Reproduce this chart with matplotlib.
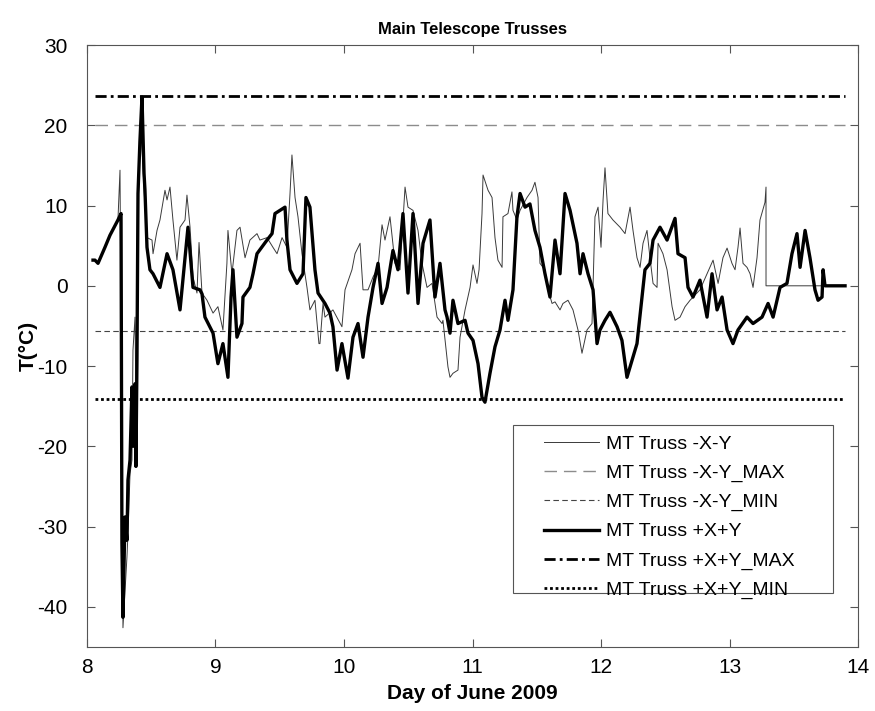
#!/usr/bin/env python3
# Main Telescope Trusses temperature trace, June 2009
import numpy as np
import matplotlib
matplotlib.use("Agg")
import matplotlib.pyplot as plt
from matplotlib.patches import Rectangle

plt.rcParams['font.family'] = ['Liberation Sans', 'DejaVu Sans']
plt.rcParams['axes.unicode_minus'] = False

# MT Truss +X+Y (thick trace): day of June, temperature in degC
day_pxpy = [8.047, 8.062, 8.086, 8.140, 8.179, 8.241, 8.265, 8.272, 8.280, 8.296,
            8.311, 8.319, 8.335, 8.350, 8.358, 8.374, 8.381, 8.389, 8.397, 8.412,
            8.428, 8.444, 8.451, 8.467, 8.490, 8.514, 8.568, 8.623, 8.669, 8.724,
            8.786, 8.825, 8.879, 8.895, 8.918, 8.981, 9.019, 9.058, 9.097, 9.121,
            9.136, 9.167, 9.206, 9.214, 9.268, 9.292, 9.323, 9.401, 9.440, 9.463,
            9.541, 9.556, 9.580, 9.634, 9.681, 9.704, 9.735, 9.774, 9.798, 9.852,
            9.891, 9.914, 9.946, 9.984, 10.031, 10.070, 10.109, 10.148, 10.187, 10.226,
            10.265, 10.296, 10.335, 10.381, 10.420, 10.459, 10.498, 10.537, 10.576, 10.615,
            10.669, 10.708, 10.747, 10.786, 10.802, 10.825, 10.848, 10.887, 10.942, 10.965,
            11.004, 11.043, 11.074, 11.097, 11.136, 11.175, 11.214, 11.253, 11.276, 11.315,
            11.346, 11.370, 11.409, 11.447, 11.486, 11.525, 11.564, 11.603, 11.642, 11.681,
            11.720, 11.759, 11.813, 11.837, 11.860, 11.899, 11.938, 11.969, 11.992, 12.031,
            12.070, 12.125, 12.163, 12.202, 12.241, 12.280, 12.319, 12.342, 12.381, 12.405,
            12.459, 12.514, 12.576, 12.599, 12.654, 12.677, 12.716, 12.770, 12.825, 12.864,
            12.903, 12.942, 12.981, 13.027, 13.066, 13.136, 13.183, 13.253, 13.300, 13.339,
            13.393, 13.447, 13.486, 13.525, 13.549, 13.588, 13.626, 13.665, 13.689, 13.720,
            13.728, 13.743, 13.899]
temp_pxpy = [3.2, 3.2, 2.8, 4.8, 6.3, 8.2, 9.0, -32.0, -41.3, -28.8,
             -31.7, -24.2, -21.7, -12.6, -20.0, -12.2, -22.5, -9.3, 11.5, 18.0,
             23.5, 14.0, 12.0, 4.8, 2.0, 1.5, -0.2, 4.0, 2.0, -3.0,
             7.3, -0.2, -0.5, -1.0, -3.9, -5.9, -9.7, -7.2, -11.4, -1.4,
             2.0, -6.4, -4.7, -1.4, -0.2, 1.5, 4.0, 5.7, 6.5, 9.0,
             9.8, 5.7, 2.0, 0.3, 1.5, 11.0, 9.8, 2.0, -0.9, -2.2,
             -3.4, -5.1, -10.5, -7.2, -11.5, -6.4, -4.7, -8.9, -3.9, -0.2,
             2.8, -2.2, -0.2, 4.4, 2.0, 9.0, -0.9, 9.0, -2.2, 5.3,
             8.2, -1.4, 2.8, -3.0, -3.9, -5.9, -1.8, -4.7, -4.3, -5.9,
             -6.8, -9.7, -13.9, -14.5, -10.9, -7.6, -5.5, -1.8, -4.3, -0.5,
             8.6, 11.5, 9.8, 10.2, 6.9, 4.8, 1.5, -1.4, 5.7, 1.5,
             11.5, 9.4, 5.3, 1.5, 4.0, 1.5, -0.5, -7.2, -5.5, -4.3,
             -3.3, -5.1, -6.8, -11.4, -9.3, -7.2, -1.4, 2.0, 2.8, 5.7,
             7.3, 5.7, 8.4, 4.0, 3.5, -0.2, -1.4, 0.7, -3.9, 1.5,
             -3.0, -1.4, -5.5, -7.2, -5.5, -3.9, -4.7, -3.9, -2.2, -3.9,
             -0.2, 0.3, 4.0, 6.5, 2.3, 6.9, 3.5, -0.5, -1.8, -1.4,
             2.0, 0.0, 0.0]

# MT Truss -X-Y (thin trace)
day_mxmy = [8.047, 8.062, 8.086, 8.140, 8.179, 8.241, 8.257, 8.280, 8.311, 8.319,
            8.335, 8.350, 8.358, 8.374, 8.381, 8.397, 8.420, 8.444, 8.467, 8.506,
            8.514, 8.545, 8.568, 8.607, 8.623, 8.646, 8.669, 8.700, 8.724, 8.763,
            8.778, 8.802, 8.825, 8.856, 8.872, 8.895, 8.934, 8.981, 9.019, 9.058,
            9.089, 9.097, 9.128, 9.167, 9.191, 9.230, 9.268, 9.323, 9.346, 9.401,
            9.447, 9.479, 9.518, 9.556, 9.580, 9.595, 9.619, 9.642, 9.673, 9.712,
            9.735, 9.774, 9.805, 9.813, 9.837, 9.852, 9.914, 9.984, 10.008, 10.062,
            10.086, 10.125, 10.148, 10.187, 10.226, 10.265, 10.296, 10.319, 10.358, 10.397,
            10.436, 10.475, 10.498, 10.537, 10.576, 10.607, 10.646, 10.685, 10.724, 10.763,
            10.770, 10.809, 10.825, 10.848, 10.887, 10.903, 10.942, 10.981, 11.004, 11.035,
            11.051, 11.074, 11.082, 11.121, 11.152, 11.175, 11.198, 11.230, 11.237, 11.276,
            11.307, 11.315, 11.346, 11.370, 11.424, 11.463, 11.486, 11.510, 11.525, 11.564,
            11.588, 11.619, 11.642, 11.681, 11.704, 11.743, 11.782, 11.821, 11.852, 11.891,
            11.930, 11.953, 11.977, 12.000, 12.016, 12.031, 12.054, 12.093, 12.148, 12.187,
            12.226, 12.249, 12.280, 12.304, 12.327, 12.358, 12.381, 12.405, 12.436, 12.444,
            12.482, 12.514, 12.553, 12.576, 12.615, 12.654, 12.693, 12.770, 12.825, 12.872,
            12.911, 12.949, 12.981, 13.019, 13.043, 13.066, 13.082, 13.105, 13.136, 13.160,
            13.183, 13.214, 13.237, 13.276, 13.284, 13.284, 13.899]
temp_mxmy = [3.2, 3.2, 2.8, 4.8, 6.3, 8.2, 14.4, -42.6, -33.8, -30.9,
             -23.4, -21.7, -8.0, -3.9, -15.0, 10.0, 20.0, 12.0, 6.0, 5.7,
             4.0, 6.9, 8.2, 11.9, 10.7, 12.3, 8.2, 3.2, 7.3, 8.2,
             11.3, 7.3, 1.1, -0.9, 5.4, -0.9, -1.8, -3.4, -2.6, -5.5,
             2.8, 6.9, 1.5, 6.9, 7.3, 3.5, 5.7, 6.5, 5.7, 6.0,
             4.8, 4.0, 6.0, 4.8, 11.5, 16.3, 11.0, 8.6, 4.0, -0.2,
             -3.0, -1.8, -7.2, -7.2, -2.2, -3.9, -3.0, -5.1, -0.5, 2.0,
             4.0, 5.3, -0.5, -0.5, 1.1, 2.3, 7.6, 5.7, 8.6, 2.8,
             2.0, 12.3, 9.8, 9.4, 6.9, 2.8, -0.2, 0.3, -3.9, -4.7,
             -4.3, -10.1, -11.4, -10.9, -10.5, -6.4, -3.0, -0.2, 2.6, 0.3,
             2.0, 9.0, 13.8, 11.9, 11.0, 6.0, 3.2, 2.3, 8.6, 9.0,
             11.7, 9.4, 8.2, 9.4, 11.0, 11.9, 12.9, 11.0, 2.8, 2.0,
             -0.5, -2.2, -2.0, -3.0, -2.2, -1.8, -3.0, -5.5, -8.4, -5.5,
             -4.7, 8.6, 9.8, 4.8, 10.7, 14.7, 9.0, 8.2, 7.3, 6.5,
             9.8, 6.9, 3.5, 2.3, 5.3, 6.9, 3.5, 0.3, -0.2, 5.3,
             4.0, 2.0, -2.6, -4.3, -3.9, -2.6, -1.8, -0.5, 1.5, 3.2,
             0.3, 3.5, 4.7, 2.8, 2.0, 4.8, 7.2, 2.8, 2.3, 1.5,
             -0.2, 3.5, 8.2, 10.4, 12.3, 0.0, 0.0]

# Limits (MAX / MIN reference levels)
mxmy_max = 20.0
mxmy_min = -5.6
pxpy_max = 23.6
pxpy_min = -14.1

x_limits = (8, 14)
y_limits = (-45, 30)

fig = plt.figure(figsize=(8.75, 7.11), dpi=100)
ax = fig.add_axes([0.0994, 0.090, 0.8812, 0.8467])

x_line = [8.06, 13.9]
ax.plot(day_mxmy, temp_mxmy, color='#3a3a3a', lw=0.7, label='MT Truss -X-Y')
ax.plot(x_line, [mxmy_max] * 2, color='#8c8c8c', lw=1.0, dashes=(9, 5),
        label='MT Truss -X-Y_MAX')
ax.plot(x_line, [mxmy_min] * 2, color='#444444', lw=0.8, dashes=(5, 3),
        label='MT Truss -X-Y_MIN')
ax.plot(day_pxpy, temp_pxpy, color='black', lw=2.4, label='MT Truss +X+Y')
ax.plot(x_line, [pxpy_max] * 2, color='black', lw=2.0, dashes=(4, 1.5, 1, 1.5),
        label='MT Truss +X+Y_MAX')
ax.plot(x_line, [pxpy_min] * 2, color='black', lw=2.0, dashes=(1, 1),
        label='MT Truss +X+Y_MIN')

ax.set_xlim(*x_limits)
ax.set_ylim(*y_limits)
ax.set_xticks(np.arange(8, 15, 1))
ax.set_yticks(np.arange(-40, 31, 10))
ax.tick_params(direction='in', length=6, labelsize=15, top=True, right=True,
               color='#555555')
ax.tick_params(axis='y', pad=14)
ax.tick_params(axis='x', pad=8)
for s in ax.spines.values():
    s.set_color('#555555')
    s.set_linewidth(0.8)

ax.set_title('Main Telescope Trusses', fontsize=12, fontweight='bold', pad=8)
ax.set_xlabel('Day of June 2009', fontsize=15, fontweight='bold', labelpad=5)
ax.set_ylabel('T(°C)', fontsize=15, fontweight='bold')
ax.yaxis.set_label_coords(-0.064, 0.5)

# legend frame drawn as a plain box, MATLAB style
ax.add_patch(Rectangle((0.5525, 0.0897), 0.4151, 0.2791, transform=ax.transAxes,
                       facecolor='white', edgecolor='#555555', lw=0.8, zorder=4))
leg = ax.legend(loc='upper left', bbox_to_anchor=(0.5795, 0.368), fontsize=14,
                handlelength=2.85, handletextpad=0.35, labelspacing=0.59,
                borderpad=0, frameon=False)
leg.set_zorder(5)

fig.savefig('out.png', dpi=100)
